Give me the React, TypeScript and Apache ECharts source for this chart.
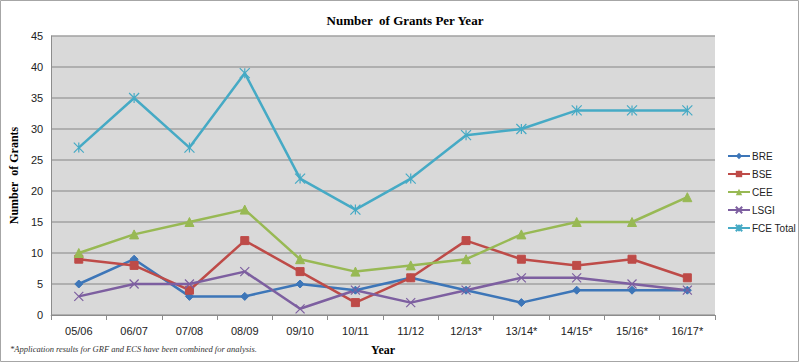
import React, { useEffect, useRef } from "react";
import * as echarts from "echarts";

const categories = ["05/06", "06/07", "07/08", "08/09", "09/10", "10/11", "11/12", "12/13*", "13/14*", "14/15*", "15/16*", "16/17*"];
const bre = [5, 9, 3, 3, 5, 4, 6, 4, 2, 4, 4, 4];
const bse = [9, 8, 4, 12, 7, 2, 6, 12, 9, 8, 9, 6];
const cee = [10, 13, 15, 17, 9, 7, 8, 9, 13, 15, 15, 19];
const lsgi = [3, 5, 5, 7, 1, 4, 2, 4, 6, 6, 5, 4];
const fce = [27, 35, 27, 39, 22, 17, 22, 29, 30, 33, 33, 33];

const crossPath = "path://M0,0L10,10M10,0L0,10";
const starPath = "path://M0,0L10,10M10,0L0,10M5,0L5,10";

export default function App() {
  const ref = useRef<HTMLDivElement>(null);
  useEffect(() => {
    const chart = echarts.init(ref.current!, null, { renderer: "svg" });
    const mk = (name: string, data: number[], color: string, symbol: string, size: number, stroke = false) => ({
      name,
      type: "line",
      data,
      symbol,
      symbolSize: size,
      lineStyle: { width: 2.5, color },
      itemStyle: stroke
        ? { color: "rgba(0,0,0,0)", borderColor: color, borderWidth: 1.2 }
        : { color, borderColor: color },
      emphasis: { disabled: true },
    });
    chart.setOption({
      animation: false,
      backgroundColor: "#ffffff",
      title: {
        text: "Number  of Grants Per Year",
        left: 400,
        top: 9,
        textAlign: "center",
        textStyle: { fontFamily: "Liberation Serif", fontWeight: "bold", fontSize: 13, color: "#000" },
      },
      legend: {
        orient: "vertical",
        left: 727,
        top: 151,
        padding: 0,
        itemWidth: 22,
        itemHeight: 8,
        itemGap: 8,
        textStyle: { fontFamily: "Liberation Sans Narrow, Liberation Sans", fontSize: 10, color: "#222", padding: [0, 0, 0, -3] },
        data: ["BRE", "BSE", "CEE", "LSGI", "FCE Total"],
      },
      grid: { left: 48, right: 85, top: 36, bottom: 48, containLabel: false, show: true, backgroundColor: "#d9d9d9", borderWidth: 0 },
      xAxis: {
        type: "category",
        data: categories,
        boundaryGap: true,
        name: "Year",
        nameLocation: "middle",
        nameGap: 29,
        nameTextStyle: { fontFamily: "Liberation Serif", fontWeight: "bold", fontSize: 12, color: "#000" },
        axisLine: { lineStyle: { color: "#8c8c8c", width: 1 } },
        axisTick: { show: true, length: 5, lineStyle: { color: "#8c8c8c" } },
        axisLabel: { fontFamily: "Liberation Sans", fontSize: 11, color: "#222", margin: 10 },
      },
      yAxis: {
        type: "value",
        min: 0,
        max: 45,
        interval: 5,
        name: "Number  of Grants",
        nameLocation: "middle",
        nameGap: 26,
        nameTextStyle: { fontFamily: "Liberation Serif", fontWeight: "bold", fontSize: 12, color: "#000" },
        axisLine: { show: true, lineStyle: { color: "#8c8c8c" } },
        axisTick: { show: false },
        axisLabel: { fontFamily: "Liberation Sans", fontSize: 11, color: "#222", margin: 8 },
        splitLine: { lineStyle: { color: "#a0a0a0", width: 1.5 } },
      },
      graphic: [
        {
          type: "rect",
          shape: { x: 0.5, y: 0.5, width: 798, height: 361 },
          style: { fill: "none", stroke: "#a6a6a6", lineWidth: 1 },
          silent: true,
        },
        {
          type: "text",
          left: 10,
          top: 344,
          style: {
            text: "*Application results for GRF and ECS have been combined for analysis.",
            fontFamily: "Liberation Serif",
            fontStyle: "italic",
            fontSize: 8.5,
            fill: "#333",
          },
        },
      ],
      series: [
        mk("BRE", bre, "#3d76b8", "diamond", 8),
        mk("BSE", bse, "#be4b48", "rect", 8),
        mk("CEE", cee, "#98b954", "triangle", 9),
        mk("LSGI", lsgi, "#7d5fa0", crossPath, 9, true),
        mk("FCE Total", fce, "#46aac5", starPath, 10, true),
      ],
    });
    return () => chart.dispose();
  }, []);
  return <div ref={ref} style={{ width: 800, height: 363, position: "absolute", left: 0, top: 0 }} />;
}
